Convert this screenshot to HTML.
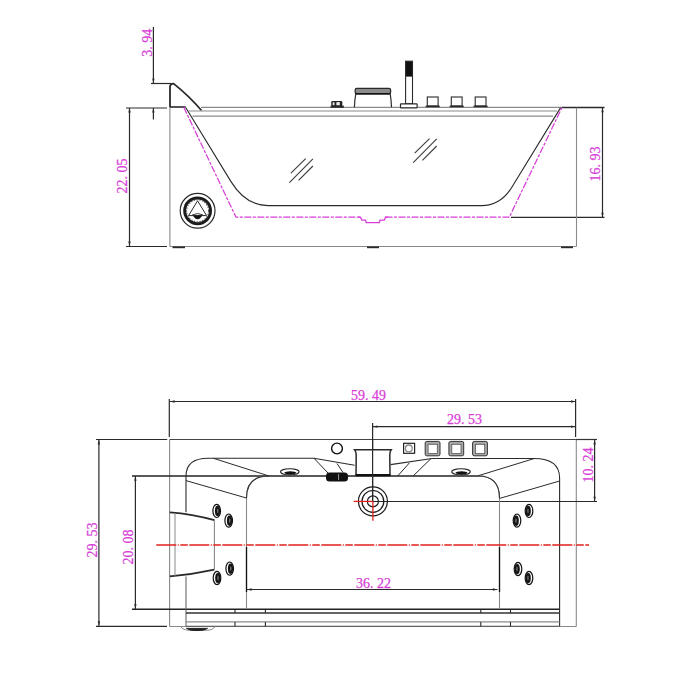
<!DOCTYPE html>
<html><head><meta charset="utf-8"><style>
html,body{margin:0;padding:0;background:#fff;}
svg{display:block;}
text{font-family:"Liberation Serif",serif;}
</style></head><body>
<svg width="700" height="700" viewBox="0 0 700 700">
<rect width="700" height="700" fill="#fff"/>
<line x1="153.4" y1="27" x2="153.4" y2="83" stroke="#2a2a2a" stroke-width="1.2" />
<polygon points="153.4,83.0 152.2,78.4 154.6,78.4" fill="#2a2a2a"/>
<line x1="153.4" y1="108" x2="153.4" y2="119.5" stroke="#2a2a2a" stroke-width="1.2" />
<polygon points="153.4,108.0 152.2,112.6 154.6,112.6" fill="#2a2a2a"/>
<line x1="151" y1="83.5" x2="171" y2="83.5" stroke="#2a2a2a" stroke-width="1.2" />
<line x1="126" y1="108" x2="167" y2="108" stroke="#2a2a2a" stroke-width="1.2" />
<text transform="translate(151.6,56.8) rotate(-90)" x="0.0 7.0 14.0 21.0" y="0" font-size="14" fill="#d83ed8" stroke="#d83ed8" stroke-width="0.25">3.94</text>
<line x1="129.5" y1="108" x2="129.5" y2="246" stroke="#2a2a2a" stroke-width="1.2" />
<polygon points="129.5,108.0 128.3,112.6 130.7,112.6" fill="#2a2a2a"/>
<polygon points="129.5,246.0 128.3,241.4 130.7,241.4" fill="#2a2a2a"/>
<line x1="126" y1="246.5" x2="167" y2="246.5" stroke="#2a2a2a" stroke-width="1.2" />
<text transform="translate(127.3,193.5) rotate(-90)" x="0.0 7.0 14.0 21.0 28.0" y="0" font-size="14" fill="#d83ed8" stroke="#d83ed8" stroke-width="0.25">22.05</text>
<line x1="602.5" y1="107.6" x2="602.5" y2="217.3" stroke="#2a2a2a" stroke-width="1.2" />
<polygon points="602.5,107.6 601.3,112.2 603.7,112.2" fill="#2a2a2a"/>
<polygon points="602.5,217.3 601.3,212.7 603.7,212.7" fill="#2a2a2a"/>
<line x1="562" y1="107.5" x2="604.5" y2="107.5" stroke="#2a2a2a" stroke-width="1.4" />
<line x1="511" y1="217.3" x2="604.5" y2="217.3" stroke="#2a2a2a" stroke-width="1.2" />
<text transform="translate(599.8,181.5) rotate(-90)" x="0.0 7.0 14.0 21.0 28.0" y="0" font-size="14" fill="#d83ed8" stroke="#d83ed8" stroke-width="0.25">16.93</text>
<line x1="169.9" y1="107" x2="169.9" y2="246.5" stroke="#8a8a8a" stroke-width="1.1" />
<line x1="169.8" y1="246.5" x2="576.5" y2="246.5" stroke="#8a8a8a" stroke-width="1.1" />
<line x1="576.5" y1="107.6" x2="576.5" y2="246.5" stroke="#8a8a8a" stroke-width="1.1" />
<line x1="172.5" y1="247.3" x2="185" y2="247.3" stroke="#2a2a2a" stroke-width="1.8" />
<line x1="367" y1="247.3" x2="379" y2="247.3" stroke="#2a2a2a" stroke-width="1.8" />
<line x1="561" y1="247.3" x2="573" y2="247.3" stroke="#2a2a2a" stroke-width="1.8" />
<path d="M170,107 L170,87 Q170,83.6 173.6,83.6 C183.5,91.5 193.5,101 201.5,110.5" stroke="#2a2a2a" stroke-width="1.8" fill="none" />
<line x1="170" y1="107" x2="185.7" y2="107" stroke="#2a2a2a" stroke-width="1.6" />
<line x1="201" y1="107.4" x2="562" y2="107.4" stroke="#8a8a8a" stroke-width="1.2" />
<line x1="189" y1="111" x2="557" y2="111" stroke="#8a8a8a" stroke-width="1.1" />
<line x1="192.5" y1="116.1" x2="553" y2="116.1" stroke="#8a8a8a" stroke-width="1.1" />
<path d="M185.7,107.5 L231,181.6 Q245.8,205.6 268,205.6 L481.7,205.6 Q500.7,205.6 512,187 L560.6,107.6" stroke="#2a2a2a" stroke-width="1.1" fill="none" />
<path d="M183.8,107.3 L236,217.2 L360.5,217.2" stroke="#d83ed8" stroke-width="1.25" fill="none" stroke-dasharray="7 1.5 3 1.5"/>
<path d="M358,217.2 L360.5,217.2 L361.8,220 L365.6,220 L366.2,222.5 L379.4,222.5 L380,220 L384.3,220 L385.5,217.2 L388,217.2" stroke="#d83ed8" stroke-width="1.25" fill="none" />
<path d="M385.5,217.2 L509.3,217.2 L562,107.5" stroke="#d83ed8" stroke-width="1.25" fill="none" stroke-dasharray="7 1.5 3 1.5"/>
<line x1="290.9" y1="173.1" x2="305.7" y2="158.6" stroke="#3a3a3a" stroke-width="1.1" />
<line x1="289.4" y1="182.6" x2="312.9" y2="158.9" stroke="#3a3a3a" stroke-width="1.1" />
<line x1="298.6" y1="180.3" x2="312.9" y2="166" stroke="#3a3a3a" stroke-width="1.1" />
<line x1="414.7" y1="153.1" x2="429.5" y2="138.6" stroke="#3a3a3a" stroke-width="1.1" />
<line x1="413.2" y1="162.6" x2="436.7" y2="138.9" stroke="#3a3a3a" stroke-width="1.1" />
<line x1="422.40000000000003" y1="160.3" x2="436.7" y2="146" stroke="#3a3a3a" stroke-width="1.1" />
<circle cx="197.6" cy="210.8" r="17.4" fill="none" stroke="#2a2a2a" stroke-width="1.2"/>
<circle cx="197.6" cy="210.8" r="12.9" fill="none" stroke="#1c1c1c" stroke-width="3.0"/>
<circle cx="197.6" cy="210.8" r="11.0" fill="none" stroke="#555" stroke-width="1.1" stroke-dasharray="1.4 1.4"/>
<polygon points="197.6,200.8 188.6,215.60000000000002 206.6,215.60000000000002" fill="none" stroke="#2a2a2a" stroke-width="1"/>
<path d="M192.1,215.0 Q197.6,212.0 203.1,215.0" stroke="#2a2a2a" stroke-width="0.9" fill="none" />
<path d="M193.1,215.4 L202.1,215.4 Q200.1,219.0 197.6,219.0 Q195.1,219.0 193.1,215.4 Z" stroke="#2a2a2a" stroke-width="0.6" fill="#111" />
<rect x="331.3" y="100.9" width="11" height="6" rx="1.4" fill="#222"/>
<rect x="332.7" y="102.3" width="1.8" height="3" fill="#eee"/>
<rect x="336.4" y="102.1" width="3.4" height="3.3" fill="#eee"/>
<rect x="330.6" y="105.6" width="13.2" height="2.2" fill="#2a2a2a"/>
<rect x="355.2" y="88.4" width="35.4" height="5.4" rx="1.6" fill="#8c8c8c" stroke="#2a2a2a" stroke-width="1.3"/>
<line x1="355.6" y1="93.7" x2="390.2" y2="93.7" stroke="#111" stroke-width="1.5" />
<path d="M355.8,94 Q354.6,100 354.4,107.3" stroke="#2a2a2a" stroke-width="1.2" fill="none" />
<path d="M390.2,94 Q391.3,100 391.5,107.3" stroke="#2a2a2a" stroke-width="1.2" fill="none" />
<rect x="405.4" y="61.2" width="7.2" height="15.4" fill="#111"/>
<rect x="405.6" y="61.2" width="6.9" height="42.6" fill="none" stroke="#2a2a2a" stroke-width="1.1"/>
<rect x="400.5" y="103.9" width="16.6" height="3.9" rx="0.6" fill="#fff" stroke="#2a2a2a" stroke-width="1.2"/>
<rect x="427.3" y="97" width="10.8" height="9" fill="#fff" stroke="#2a2a2a" stroke-width="1.1"/>
<rect x="425.7" y="105.6" width="14" height="1.6" fill="#2a2a2a"/>
<rect x="451.3" y="97" width="10.8" height="9" fill="#fff" stroke="#2a2a2a" stroke-width="1.1"/>
<rect x="449.7" y="105.6" width="14" height="1.6" fill="#2a2a2a"/>
<rect x="475.2" y="97" width="10.8" height="9" fill="#fff" stroke="#2a2a2a" stroke-width="1.1"/>
<rect x="473.59999999999997" y="105.6" width="14" height="1.6" fill="#2a2a2a"/>
<line x1="169.6" y1="439.5" x2="576.3" y2="439.5" stroke="#444" stroke-width="1.2" />
<line x1="169.6" y1="439.5" x2="169.6" y2="626.5" stroke="#8a8a8a" stroke-width="1.1" />
<line x1="576.3" y1="439.5" x2="576.3" y2="626.5" stroke="#8a8a8a" stroke-width="1.1" />
<line x1="169.6" y1="626.5" x2="576.3" y2="626.5" stroke="#8a8a8a" stroke-width="1.1" />
<line x1="170" y1="401.5" x2="575.6" y2="401.5" stroke="#2a2a2a" stroke-width="1.2" />
<polygon points="170.0,401.5 174.6,400.3 174.6,402.7" fill="#2a2a2a"/>
<polygon points="575.6,401.5 571.0,400.3 571.0,402.7" fill="#2a2a2a"/>
<line x1="169.3" y1="399" x2="169.3" y2="437" stroke="#2a2a2a" stroke-width="1.2" />
<line x1="575.6" y1="399" x2="575.6" y2="437" stroke="#2a2a2a" stroke-width="1.2" />
<text x="351.0 358.0 365.0 372.0 379.0" y="400.3" font-size="14" fill="#d83ed8" stroke="#d83ed8" stroke-width="0.25">59.49</text>
<line x1="372.6" y1="426.6" x2="575.6" y2="426.6" stroke="#2a2a2a" stroke-width="1.2" />
<polygon points="372.8,426.6 377.4,425.4 377.4,427.8" fill="#2a2a2a"/>
<polygon points="575.6,426.6 571.0,425.4 571.0,427.8" fill="#2a2a2a"/>
<line x1="372.6" y1="423" x2="372.6" y2="501.4" stroke="#2a2a2a" stroke-width="1.2" />
<text x="447.0 454.0 461.0 468.0 475.0" y="424" font-size="14" fill="#d83ed8" stroke="#d83ed8" stroke-width="0.25">29.53</text>
<line x1="576" y1="439.5" x2="597" y2="439.5" stroke="#333" stroke-width="1.2" />
<line x1="594.6" y1="439.5" x2="594.6" y2="501.5" stroke="#2a2a2a" stroke-width="1.2" />
<polygon points="594.6,439.8 593.4,444.4 595.8,444.4" fill="#2a2a2a"/>
<polygon points="594.6,501.3 593.4,496.7 595.8,496.7" fill="#2a2a2a"/>
<line x1="372.9" y1="501.5" x2="597" y2="501.5" stroke="#2a2a2a" stroke-width="1.2" />
<text transform="translate(592.6,482.6) rotate(-90)" x="0.0 7.0 14.0 21.0 28.0" y="0" font-size="14" fill="#d83ed8" stroke="#d83ed8" stroke-width="0.25">10.24</text>
<line x1="98.9" y1="439.6" x2="98.9" y2="626" stroke="#2a2a2a" stroke-width="1.2" />
<polygon points="98.9,439.8 97.7,444.4 100.1,444.4" fill="#2a2a2a"/>
<polygon points="98.9,625.8 97.7,621.2 100.1,621.2" fill="#2a2a2a"/>
<line x1="96" y1="439.5" x2="167.2" y2="439.5" stroke="#2a2a2a" stroke-width="1.2" />
<line x1="96" y1="626.4" x2="167" y2="626.4" stroke="#2a2a2a" stroke-width="1.2" />
<text transform="translate(97.0,557.4) rotate(-90)" x="0.0 7.0 14.0 21.0 28.0" y="0" font-size="14" fill="#d83ed8" stroke="#d83ed8" stroke-width="0.25">29.53</text>
<line x1="135.4" y1="476" x2="135.4" y2="609" stroke="#2a2a2a" stroke-width="1.2" />
<polygon points="135.4,476.2 134.2,480.8 136.6,480.8" fill="#2a2a2a"/>
<polygon points="135.4,608.8 134.2,604.2 136.6,604.2" fill="#2a2a2a"/>
<line x1="132" y1="476" x2="478" y2="476" stroke="#222" stroke-width="1.6" />
<line x1="132" y1="609.2" x2="559.6" y2="609.2" stroke="#222" stroke-width="1.5" />
<text transform="translate(133.4,564.4) rotate(-90)" x="0.0 7.0 14.0 21.0 28.0" y="0" font-size="14" fill="#d83ed8" stroke="#d83ed8" stroke-width="0.25">20.08</text>
<line x1="247" y1="589.5" x2="497.5" y2="589.5" stroke="#2a2a2a" stroke-width="1.2" />
<polygon points="247.0,589.5 251.6,588.3 251.6,590.7" fill="#2a2a2a"/>
<polygon points="497.5,589.5 492.9,588.3 492.9,590.7" fill="#2a2a2a"/>
<text x="356.0 363.0 370.0 377.0 384.0" y="587.6" font-size="14" fill="#d83ed8" stroke="#d83ed8" stroke-width="0.25">36.22</text>
<line x1="186" y1="626" x2="186" y2="576.5" stroke="#666" stroke-width="1.1" />
<path d="M186,512.3 L186,476 Q186,458.2 208.3,458.2 L314,458.2 L354.6,465.3" stroke="#2a2a2a" stroke-width="1.1" fill="none" />
<path d="M390.6,464.6 L432,458.5 L534,458.5 Q559.6,458.5 559.6,478 L559.6,626" stroke="#2a2a2a" stroke-width="1.1" fill="none" />
<path d="M246.5,609 L246.5,498 Q246.5,476 269,476" stroke="#8a8a8a" stroke-width="1.1" fill="none" />
<path d="M246.5,498 Q246.5,476 269,476" stroke="#333" stroke-width="1.1" fill="none" />
<path d="M478,476 Q499.5,476 499.5,498 L499.5,609" stroke="#8a8a8a" stroke-width="1.1" fill="none" />
<path d="M478,476 Q499.5,476 499.5,498" stroke="#333" stroke-width="1.1" fill="none" />
<line x1="213.4" y1="458.3" x2="269" y2="476" stroke="#2a2a2a" stroke-width="1.0" />
<line x1="186" y1="480.6" x2="246.4" y2="498" stroke="#2a2a2a" stroke-width="1.0" />
<line x1="534" y1="458.6" x2="478" y2="475.8" stroke="#2a2a2a" stroke-width="1.0" />
<line x1="559.6" y1="481" x2="499.6" y2="498.4" stroke="#2a2a2a" stroke-width="1.0" />
<line x1="314" y1="458.3" x2="328" y2="473" stroke="#2a2a2a" stroke-width="1.0" />
<line x1="337" y1="463.5" x2="343" y2="472.5" stroke="#2a2a2a" stroke-width="1.0" />
<line x1="409.3" y1="463" x2="397.7" y2="476" stroke="#2a2a2a" stroke-width="1.0" />
<line x1="431" y1="458.6" x2="413.1" y2="476" stroke="#2a2a2a" stroke-width="1.0" />
<line x1="186" y1="613" x2="559.6" y2="613" stroke="#333" stroke-width="1.4" />
<line x1="186" y1="621.9" x2="559.6" y2="621.9" stroke="#8a8a8a" stroke-width="1.2" />
<line x1="186" y1="626.2" x2="559.6" y2="626.2" stroke="#555" stroke-width="1.1" />
<line x1="235" y1="609" x2="235" y2="613" stroke="#2a2a2a" stroke-width="1.1" />
<line x1="235" y1="622" x2="235" y2="626.2" stroke="#2a2a2a" stroke-width="1.1" />
<line x1="265.4" y1="609" x2="265.4" y2="613" stroke="#2a2a2a" stroke-width="1.1" />
<line x1="265.4" y1="622" x2="265.4" y2="626.2" stroke="#2a2a2a" stroke-width="1.1" />
<line x1="480.8" y1="609" x2="480.8" y2="613" stroke="#2a2a2a" stroke-width="1.1" />
<line x1="480.8" y1="622" x2="480.8" y2="626.2" stroke="#2a2a2a" stroke-width="1.1" />
<line x1="510.5" y1="609" x2="510.5" y2="613" stroke="#2a2a2a" stroke-width="1.1" />
<line x1="510.5" y1="622" x2="510.5" y2="626.2" stroke="#2a2a2a" stroke-width="1.1" />
<path d="M180.7,626.6 Q183,630.3 190,630.3 L206,630.3 Q213,630.3 215,626.6" stroke="#8a8a8a" stroke-width="1" fill="none" />
<path d="M186.5,628.4 Q190,630.6 197,630.6 Q204,630.6 207.5,628.4 Z" stroke="#222" stroke-width="1" fill="#222" />
<path d="M169.8,512.4 Q192,514 214.4,520.2" stroke="#2a2a2a" stroke-width="1.8" fill="none" />
<path d="M169.8,576.4 Q192,574.5 214.4,569.6" stroke="#2a2a2a" stroke-width="1.8" fill="none" />
<line x1="214.4" y1="520.2" x2="214.4" y2="569.6" stroke="#8a8a8a" stroke-width="1.1" />
<line x1="175" y1="513" x2="175" y2="576" stroke="#8a8a8a" stroke-width="1.0" />
<ellipse cx="216.7" cy="510.9" rx="3.8" ry="6.6" fill="#fff" stroke="#111" stroke-width="1.2"/>
<ellipse cx="217.5" cy="511.0" rx="2.6" ry="5.2" fill="#151515"/>
<ellipse cx="217.73999999999998" cy="510.9" rx="0.7" ry="2.4" fill="#777"/>
<ellipse cx="228.7" cy="520.6" rx="3.8" ry="6.6" fill="#fff" stroke="#111" stroke-width="1.2"/>
<ellipse cx="229.5" cy="520.7" rx="2.6" ry="5.2" fill="#151515"/>
<ellipse cx="229.73999999999998" cy="520.6" rx="0.7" ry="2.4" fill="#777"/>
<ellipse cx="229.7" cy="568.6" rx="3.8" ry="6.6" fill="#fff" stroke="#111" stroke-width="1.2"/>
<ellipse cx="230.5" cy="568.7" rx="2.6" ry="5.2" fill="#151515"/>
<ellipse cx="230.73999999999998" cy="568.6" rx="0.7" ry="2.4" fill="#777"/>
<ellipse cx="217" cy="578" rx="3.8" ry="6.6" fill="#fff" stroke="#111" stroke-width="1.2"/>
<ellipse cx="217.8" cy="578.1" rx="2.6" ry="5.2" fill="#151515"/>
<ellipse cx="218.04" cy="578" rx="0.7" ry="2.4" fill="#777"/>
<ellipse cx="529" cy="510.9" rx="3.8" ry="6.6" fill="#fff" stroke="#111" stroke-width="1.2"/>
<ellipse cx="528.2" cy="511.0" rx="2.6" ry="5.2" fill="#151515"/>
<ellipse cx="527.96" cy="510.9" rx="0.7" ry="2.4" fill="#777"/>
<ellipse cx="517" cy="520.6" rx="3.8" ry="6.6" fill="#fff" stroke="#111" stroke-width="1.2"/>
<ellipse cx="516.2" cy="520.7" rx="2.6" ry="5.2" fill="#151515"/>
<ellipse cx="515.96" cy="520.6" rx="0.7" ry="2.4" fill="#777"/>
<ellipse cx="518" cy="569" rx="3.8" ry="6.6" fill="#fff" stroke="#111" stroke-width="1.2"/>
<ellipse cx="517.2" cy="569.1" rx="2.6" ry="5.2" fill="#151515"/>
<ellipse cx="516.96" cy="569" rx="0.7" ry="2.4" fill="#777"/>
<ellipse cx="529" cy="578" rx="3.8" ry="6.6" fill="#fff" stroke="#111" stroke-width="1.2"/>
<ellipse cx="528.2" cy="578.1" rx="2.6" ry="5.2" fill="#151515"/>
<ellipse cx="527.96" cy="578" rx="0.7" ry="2.4" fill="#777"/>
<ellipse cx="289.8" cy="471.8" rx="9.3" ry="3" fill="#fff" stroke="#222" stroke-width="1.1"/>
<ellipse cx="290.3" cy="472.8" rx="6" ry="1.6" fill="#111"/>
<ellipse cx="461" cy="471.8" rx="9.3" ry="3" fill="#fff" stroke="#222" stroke-width="1.1"/>
<ellipse cx="461.5" cy="472.8" rx="6" ry="1.6" fill="#111"/>
<circle cx="337" cy="448.5" r="5.4" fill="#fff" stroke="#111" stroke-width="1.4"/>
<rect x="326" y="472.6" width="22" height="8.8" rx="3.5" fill="#111"/>
<line x1="338.6" y1="474" x2="338.6" y2="480" stroke="#bbb" stroke-width="0.8" />
<path d="M354.6,449.8 Q356.5,452 356.2,458 L356,475 L390,475 L389.8,458 Q389.5,452 391.2,449.8 Z" stroke="#2a2a2a" stroke-width="1.5" fill="#fff" />
<line x1="355.6" y1="475.2" x2="390.4" y2="475.2" stroke="#111" stroke-width="2.2" />
<line x1="372.6" y1="440" x2="372.6" y2="501.4" stroke="#2a2a2a" stroke-width="1.2" />
<rect x="403.6" y="443.3" width="11" height="10" fill="#fff" stroke="#222" stroke-width="1.2"/>
<circle cx="408.8" cy="448.4" r="3.4" fill="#fff" stroke="#888" stroke-width="1.3"/>
<rect x="425.2" y="441.4" width="14.8" height="14.4" rx="1.6" fill="#a8a8a8" stroke="#333" stroke-width="1.0"/>
<rect x="428.09999999999997" y="444.3" width="9.2" height="9.2" fill="#fff" stroke="#555" stroke-width="0.8"/>
<rect x="448.9" y="441.4" width="14.8" height="14.4" rx="1.6" fill="#a8a8a8" stroke="#333" stroke-width="1.0"/>
<rect x="451.79999999999995" y="444.3" width="9.2" height="9.2" fill="#fff" stroke="#555" stroke-width="0.8"/>
<rect x="472.6" y="441.4" width="14.8" height="14.4" rx="1.6" fill="#a8a8a8" stroke="#333" stroke-width="1.0"/>
<rect x="475.5" y="444.3" width="9.2" height="9.2" fill="#fff" stroke="#555" stroke-width="0.8"/>
<circle cx="372.9" cy="501.4" r="14.5" fill="none" stroke="#1a1a1a" stroke-width="1.2"/>
<circle cx="372.9" cy="501.4" r="10.9" fill="none" stroke="#1a1a1a" stroke-width="1.2"/>
<circle cx="372.9" cy="501.4" r="5.5" fill="none" stroke="#1a1a1a" stroke-width="1.2"/>
<line x1="353.6" y1="501.4" x2="372.9" y2="501.4" stroke="#e0201c" stroke-width="1.3" />
<line x1="372.9" y1="501.4" x2="372.9" y2="520.7" stroke="#e0201c" stroke-width="1.3" />
<line x1="246.5" y1="547" x2="246.5" y2="592" stroke="#111" stroke-width="1.3" />
<line x1="499.5" y1="547" x2="499.5" y2="592" stroke="#111" stroke-width="1.3" />
<line x1="156.3" y1="545" x2="589" y2="545" stroke="#e0201c" stroke-width="1.3" stroke-dasharray="20 1.5 1 1.5 7.5 1.5"/>
</svg>
</body></html>
